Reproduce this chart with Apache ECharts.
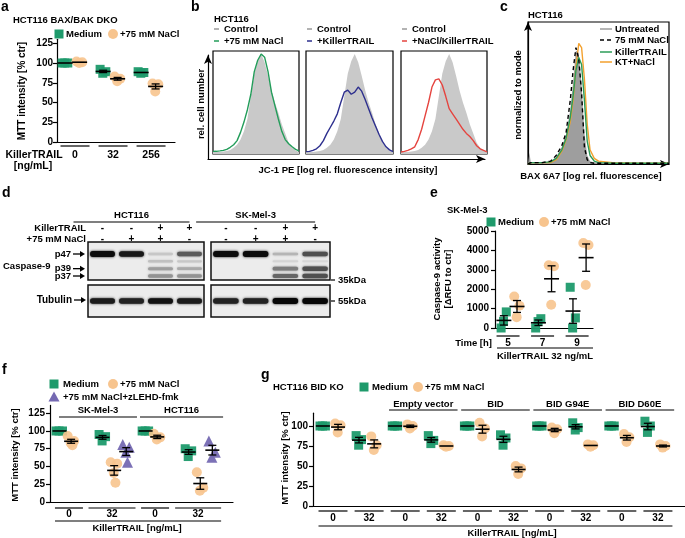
<!DOCTYPE html>
<html><head><meta charset="utf-8">
<script src="https://cdn.jsdelivr.net/npm/echarts@6/dist/echarts.min.js"></script>
<style>html,body{margin:0;padding:0;background:#fff}#c{width:685px;height:538px}</style>
</head><body><div id="c"></div>
<script>
// ================= DATA =================
// Panel a: HCT116 BAX/BAK DKO, MTT intensity [% ctr]
const aDoses = ['0', '32', '256'];
const aMedium = [[100, 100, 100], [92, 89, 87], [89, 88, 87]];
const aNaCl = [[102, 101, 100], [83, 80, 77], [74, 73, 64]];
// Panel b: JC-1 PE histograms (relative cell number, % of panel height)
const bBins = [0, .04, .08, .12, .16, .2, .24, .28, .32, .36, .4, .44, .48, .52, .56, .6, .64, .68, .72, .76, .8, .84, .88, .92, .96, 1];
const bControl = [2, 2, 2, 2.5, 3, 4, 6, 9, 14, 22, 34, 56, 78, 90, 97, 89, 76, 62, 50, 40, 29, 20, 11, 6, 3.5, 2];
const bNaCl = [2.5, 2.6, 3, 3.5, 4.5, 6.5, 9, 13, 21, 31, 43, 58, 80, 91, 97, 94, 80, 60, 47, 34, 22, 14, 10, 7, 4.5, 3];
const bKillerTRAIL = [2.3, 2.5, 3.5, 5, 8, 13, 20, 26, 32, 39, 50, 60, 62, 58, 60, 65, 61, 53, 44, 35, 27, 19, 12, 7, 4, 2.3];
const bNaClKillerTRAIL = [2, 2.5, 3.5, 5, 7, 14, 24, 37, 50, 65, 72, 73, 67, 56, 44, 39, 34, 29, 24, 20, 17, 13, 8, 5, 3.5, 2];
const bLegend = ['+75 mM NaCl', '+KillerTRAIL', '+NaCl/KillerTRAIL'];
// Panel c: BAX 6A7 histograms (normalized to mode)
const cBins = [0, .01, .02, .1, .16, .2, .24, .27, .3, .32, .34, .36, .38, .4, .42, .44, .47, .5, .6, .8, 1];
const cUntreated = [0, 8, 1, 1, 2, 5, 12, 21, 38, 58, 80, 78, 56, 22, 6, 2, 1, 1, .5, .5, .5];
const cNaCl = [0, 1, 1, 1, 2, 6, 13, 22, 45, 66, 82, 74, 50, 12, 3, 1, .5, .5, .5, .5, .5];
const cKillerTRAIL = [0, 1, 1, 1, 1.5, 4, 10, 18, 33, 48, 66, 75, 70, 45, 16, 6, 2, 1, .5, .5, .5];
const cKTNaCl = [0, 1, 1, 1, 1, 3, 9, 17, 30, 45, 68, 85, 82, 60, 28, 10, 4, 2, 1, .5, .5];
const cLegend = ['Untreated', '75 mM NaCl', 'KillerTRAIL', 'KT+NaCl'];
// Panel d: western blot (band darkness 0..1, rows = bands, columns = lanes)
const dLanes = ['1', '2', '3', '4'];
const dKillerTRAIL = ['-', '-', '+', '+'];
const dNaClRow = ['-', '+', '+', '-'];
const dBands = ['p47', 'p43', 'p39', 'p37'];
const dLabeledBands = ['p47', 'p39', 'p37'];
const dMarkers = ['35kDa', '55kDa'];
const dHCT116 = [[.95, .9, .12, .6], [0, 0, .15, .12], [0, 0, .3, .25], [0, 0, .35, .35]];
const dSKMel3 = [[.95, .95, .2, .65], [0, 0, .06, .05], [0, 0, .45, .65], [0, 0, .55, .65]];
const dTubulinHCT = [.88, .85, .92, .88];
const dTubulinSK = [.85, .85, .97, .97];
// Panel e: SK-Mel-3 caspase-9 activity [ΔRFU to ctr]
const eTimes = ['5', '7', '9'];
const eMedium = [[0, 830, 345], [0, 480, 330], [2100, 520, 0]];
const eNaCl = [[1620, 1150, 560], [3230, 3180, 1200], [4380, 4280, 2220]];
// Panel f: MTT intensity [% ctr]
const fDoses = ['0', '32', '0', '32'];
const fCells = ['SK-Mel-3', 'HCT116'];
const fMedium = [[100, 100, 100], [95, 92, 86], [100, 100, 100], [75, 72, 64]];
const fNaCl = [[93, 86, 83, 80], [56, 54, 41, 27], [96, 91, 88], [42, 20, 16]];
const fNaClZ = [null, [81, 77, 70, 56], null, [86, 70, 63]];
// Panel g: HCT116 BID KO, MTT intensity [% ctr]
const gDoses = ['0', '32', '0', '32', '0', '32', '0', '32', '0', '32'];
const gConstructs = ['Empty vector', 'BID', 'BID G94E', 'BID D60E'];
const gMedium = [[100, 100, 100], [88, 83, 76], [100, 100, 100], [88, 82, 78], [100, 100, 100], [89, 85, 76], [100, 100, 100], [104, 98, 95], [100, 100, 100], [106, 100, 92]];
const gNaCl = [[103, 101, 92], [87, 76, 70], [102, 100, 97], [76, 75, 74], [104, 97, 87], [50, 47, 40], [98, 96, 91], [77, 76, 74], [90, 86, 80], [77, 75, 73]];

// ================= STYLE =================
const FONT = '"Liberation Sans", Arial, Helvetica, sans-serif';
const GREEN = '#1e9a6b', PEACH = '#f7c48e', PURPLE = '#7569b2';
const JIT = [-0.08, 0.07, -0.01, 0.03];
const mean = a => a.reduce((s, v) => s + v, 0) / a.length;
const sem = a => { const m = mean(a); return Math.sqrt(a.reduce((s, v) => s + (v - m) * (v - m), 0) / (a.length - 1)) / Math.sqrt(a.length); };

const grids = [], xAxis = [], yAxis = [], series = [];
function grid(box, xa, ya) {
  const i = grids.length;
  grids.push(Object.assign({ containLabel: false, outerBoundsMode: 'none' }, box));
  xAxis.push(Object.assign({ gridIndex: i }, xa));
  yAxis.push(Object.assign({ gridIndex: i }, ya));
  return i;
}
const hv = (min, max) => ({ type: 'value', min, max, show: false });
const hcat = () => ({ type: 'category', data: dLanes, show: false });
const LINE = { color: '#000', width: 1.2 };
const xScat = (min, max) => ({ type: 'value', min, max, axisLine: { show: true, onZero: true, lineStyle: LINE }, axisTick: { show: false }, axisLabel: { show: false }, splitLine: { show: false } });
const yScat = (max, ticks, margin) => ({ type: 'value', min: 0, max,
  axisLine: { show: true, onZero: false, lineStyle: LINE },
  axisTick: { show: true, length: 4, lineStyle: LINE, customValues: ticks },
  axisLabel: { customValues: ticks, formatter: v => String(v), color: '#000', fontFamily: FONT, fontWeight: 'bold', fontSize: 10, margin },
  splitLine: { show: false } });
const arrowAx = (min, max) => ({ type: 'value', min, max,
  axisLine: { show: true, onZero: false, symbol: ['none', 'arrow'], symbolSize: [6, 9], lineStyle: LINE },
  axisTick: { show: false }, axisLabel: { show: false }, splitLine: { show: false } });
const box = { show: true, borderColor: '#000', borderWidth: 1.2, backgroundColor: 'transparent' };

function scatter(gi, groups, off, symbol, size, color, opacity) {
  const data = [];
  groups.forEach((reps, g) => { if (reps) reps.forEach((v, r) => data.push([g + off + JIT[r], v])); });
  series.push({ type: 'scatter', xAxisIndex: gi, yAxisIndex: gi, symbol, symbolSize: size, itemStyle: { color, opacity }, data, silent: true, z: 2 });
}
function errbars(gi, groups, off, half, cap) {
  const data = [];
  groups.forEach((reps, g) => { if (reps) data.push([g + off, mean(reps), sem(reps)]); });
  series.push({ type: 'custom', xAxisIndex: gi, yAxisIndex: gi, z: 5, silent: true, data,
    renderItem: (p, api) => {
      const x = api.value(0), m = api.value(1), s = api.value(2);
      const pm = api.coord([x, m]), pt = api.coord([x, m + s]), pb = api.coord([x, m - s]);
      const st = { stroke: '#000', lineWidth: 1.3 };
      const ch = [{ type: 'line', shape: { x1: pm[0] - half, y1: pm[1], x2: pm[0] + half, y2: pm[1] }, style: { stroke: '#000', lineWidth: 1.6 } }];
      if (pb[1] - pt[1] > 1.5) {
        ch.push({ type: 'line', shape: { x1: pt[0], y1: pt[1], x2: pb[0], y2: pb[1] }, style: st });
        ch.push({ type: 'line', shape: { x1: pt[0] - cap, y1: pt[1], x2: pt[0] + cap, y2: pt[1] }, style: st });
        ch.push({ type: 'line', shape: { x1: pb[0] - cap, y1: pb[1], x2: pb[0] + cap, y2: pb[1] }, style: st });
      }
      return { type: 'group', children: ch };
    } });
}
function hist(gi, xs, ys, color, fill, dashed) {
  series.push({ type: 'line', xAxisIndex: gi, yAxisIndex: gi, data: xs.map((x, i) => [x, ys[i]]), showSymbol: false, smooth: false, silent: true,
    lineStyle: fill ? { width: 0 } : { color, width: 1.4, type: dashed ? [4, 3] : 'solid' },
    areaStyle: fill ? { color: fill, opacity: 1 } : undefined, z: fill ? 1 : 3 });
}
function blot(gi, rows) {
  const data = [];
  rows.forEach((row, b) => row.forEach((v, l) => { if (v > 0) data.push([l, b, v]); }));
  series.push({ type: 'custom', xAxisIndex: gi, yAxisIndex: gi, silent: true, data, z: 3,
    renderItem: (p, api) => {
      const c = api.coord([api.value(0), api.value(1)]);
      const w = api.size([1, 0])[0] * 0.86, v = api.value(2);
      const h = 1.8 + 4.2 * v, g = Math.round(226 - 226 * v);
      const col = 'rgb(' + g + ',' + g + ',' + g + ')';
      return { type: 'rect', shape: { x: c[0] - w / 2, y: c[1] - h / 2, width: w, height: h, r: h / 2 }, style: { fill: col, shadowBlur: 2.5, shadowColor: col } };
    } });
}

// ----- panel a
const A = grid({ left: 57, top: 39.3, width: 118, height: 102.7 }, xScat(-0.474, 2.63), yScat(130, [0, 25, 50, 75, 100, 125], 4));
scatter(A, aMedium, -0.26, 'rect', 9, GREEN, 0.95);
scatter(A, aNaCl, 0.12, 'circle', 10, PEACH, 0.9);
errbars(A, aMedium, -0.26, 7.5, 4);
errbars(A, aNaCl, 0.12, 7.5, 4);
// ----- panel b
const bLefts = [[213, 86], [306, 87], [401, 86]];
const bSeries = [bNaCl, bKillerTRAIL, bNaClKillerTRAIL];
const bColors = ['#239d5a', '#2d2f8e', '#e5443f'];
bLefts.forEach((lw, k) => {
  const gi = grid(Object.assign({ left: lw[0], top: 51, width: lw[1], height: 103 }, box), hv(0, 1), hv(0, 100));
  hist(gi, bBins, bControl, null, '#c9c9c9');
  hist(gi, bBins, bSeries[k], bColors[k]);
});
grid({ left: 208, top: 55, width: 277, height: 104 }, arrowAx(0, 1), arrowAx(0, 1));
// ----- panel c
const C = grid(Object.assign({ left: 528, top: 22, width: 141, height: 142 }, box), arrowAx(0, 1), arrowAx(0, 100));
hist(C, cBins, cUntreated, null, '#9e9e9e');
hist(C, cBins, cKTNaCl, '#f3a12e');
hist(C, cBins, cKillerTRAIL, '#2c9c58');
hist(C, cBins, cNaCl, '#000', null, true);
// ----- panel d (boxes + band grids)
const blotBox = { show: true, borderColor: '#111', borderWidth: 1.5, backgroundColor: '#ececec' };
const DHbox = grid(Object.assign({ left: 88, top: 242, width: 116, height: 38 }, blotBox), hv(0, 1), hv(0, 1));
const DSbox = grid(Object.assign({ left: 211, top: 242, width: 119, height: 38 }, blotBox), hv(0, 1), hv(0, 1));
grid(Object.assign({ left: 88, top: 285, width: 116, height: 32 }, blotBox), hv(0, 1), hv(0, 1));
grid(Object.assign({ left: 211, top: 285, width: 119, height: 32 }, blotBox), hv(0, 1), hv(0, 1));
const bandAxis = { type: 'category', data: dBands, inverse: true, boundaryGap: false, show: false };
const tubAxis = { type: 'category', data: ['Tubulin'], show: false };
const DH = grid({ left: 88, top: 254, width: 116, height: 22 }, hcat(), bandAxis);
const DS = grid({ left: 211, top: 254, width: 119, height: 22 }, hcat(), bandAxis);
const DTH = grid({ left: 88, top: 295, width: 116, height: 12 }, hcat(), tubAxis);
const DTS = grid({ left: 211, top: 295, width: 119, height: 12 }, hcat(), tubAxis);
blot(DH, dHCT116);
blot(DS, dSKMel3);
blot(DTH, [dTubulinHCT]);
blot(DTS, [dTubulinSK]);
// ----- panel e
const E = grid({ left: 495, top: 231, width: 98, height: 97 }, xScat(-0.377, 2.46), yScat(5000, [0, 1000, 2000, 3000, 4000, 5000], 6));
scatter(E, eMedium, -0.12, 'rect', 9, GREEN, 0.95);
scatter(E, eNaCl, 0.26, 'circle', 10, PEACH, 0.9);
errbars(E, eMedium, -0.12, 7.5, 4);
errbars(E, eNaCl, 0.26, 7.5, 4);
// ----- panel f
const F = grid({ left: 50, top: 405.4, width: 183, height: 96.6 }, xScat(-0.44, 3.81), yScat(136, [0, 25, 50, 75, 100, 125], 5));
scatter(F, fMedium, -0.22, 'rect', 9, GREEN, 0.95);
scatter(F, fNaCl, 0.05, 'circle', 10, PEACH, 0.9);
scatter(F, fNaClZ, 0.33, 'triangle', 11, PURPLE, 0.95);
errbars(F, fMedium, -0.22, 7, 4);
errbars(F, fNaCl, 0.05, 7, 4);
errbars(F, fNaClZ, 0.33, 7, 4);
// ----- panel g
const G = grid({ left: 313, top: 413.2, width: 372, height: 92.8 }, xScat(-0.554, 9.75), yScat(116, [0, 25, 50, 75, 100], 5));
scatter(G, gMedium, -0.28, 'rect', 9, GREEN, 0.95);
scatter(G, gNaCl, 0.14, 'circle', 10, PEACH, 0.9);
errbars(G, gMedium, -0.28, 7, 4);
errbars(G, gNaCl, 0.14, 7, 4);

const chart = echarts.init(document.getElementById('c'), null, { renderer: 'canvas', width: 685, height: 538 });
chart.setOption({ animation: false, backgroundColor: '#fff', grid: grids, xAxis, yAxis, series });

// ================= TEXT / ANNOTATIONS =================
const px = (gi, x, y) => chart.convertToPixel({ gridIndex: gi }, [x, y]);
const GR = [];
function txt(x, y, text, o) {
  o = o || {};
  GR.push({ type: 'text', x, y, rotation: o.rot ? Math.PI / 2 : 0, silent: true, z: 10,
    style: { text, fill: o.color || '#000', font: (o.weight || 'bold') + ' ' + (o.size || 9.5) + 'px ' + FONT, align: o.align || 'left', verticalAlign: 'middle' } });
}
function line(x1, y1, x2, y2, o) {
  o = o || {};
  GR.push({ type: 'line', silent: true, z: 10, shape: { x1, y1, x2, y2 }, style: { stroke: o.color || '#000', lineWidth: o.w || 1.2, lineDash: o.dash || null } });
}
const sq = (cx, cy) => GR.push({ type: 'rect', silent: true, z: 10, shape: { x: cx - 4.5, y: cy - 4.5, width: 9, height: 9 }, style: { fill: GREEN } });
const circ = (cx, cy) => GR.push({ type: 'circle', silent: true, z: 10, shape: { cx, cy, r: 5 }, style: { fill: PEACH } });
const tri = (cx, cy) => GR.push({ type: 'polygon', silent: true, z: 10, shape: { points: [[cx, cy - 5.5], [cx + 5.5, cy + 4.5], [cx - 5.5, cy + 4.5]] }, style: { fill: PURPLE } });
function arrow(x1, x2, y) {
  line(x1, y, x2 - 3, y, { w: 1.3 });
  GR.push({ type: 'polygon', silent: true, z: 10, shape: { points: [[x2, y], [x2 - 5, y - 3], [x2 - 5, y + 3]] }, style: { fill: '#000' } });
}
function groupAxis(gi, labels, lineY, labY, halfW, size) {
  labels.forEach((lab, g) => {
    const cx = px(gi, g, 0)[0];
    const hw = Array.isArray(halfW) ? halfW[g] : halfW;
    line(cx - hw, lineY, cx + hw, lineY);
    txt(cx, labY, lab, { align: 'center', size: size || 10 });
  });
}
function spanHeader(gi, x0, x1, lineY, textY, label) {
  const a = px(gi, x0, 0)[0], b = px(gi, x1, 0)[0];
  line(a, lineY, b, lineY);
  txt((a + b) / 2, textY, label, { align: 'center' });
}

// panel a
txt(1, 7, 'a', { size: 14 });
txt(13, 20, 'HCT116 BAX/BAK DKO', { size: 9.5 });
sq(59, 34); txt(66, 34, 'Medium'); circ(113, 34); txt(120, 34, '+75 mM NaCl');
txt(22, 91, 'MTT intensity [% ctr]', { rot: 1, align: 'center', size: 10 });
groupAxis(A, aDoses, 146, 155, 14.5, 10.5);
txt(34, 155, 'KillerTRAIL', { align: 'center', size: 10.5 });
txt(33, 166, '[ng/mL]', { align: 'center', size: 10.5 });

// panel b
txt(191, 7, 'b', { size: 14 });
txt(214, 19, 'HCT116');
[214, 307, 402].forEach((lx, k) => {
  line(lx, 29, lx + 5, 29, { color: '#9a9a9a', w: 1.5 });
  txt(lx + 10, 29, 'Control');
  line(lx, 41, lx + 5, 41, { color: bColors[k], w: 1.5 });
  txt(lx + 10, 41, bLegend[k]);
});
txt(201, 104, 'rel. cell number', { rot: 1, align: 'center' });
txt(348, 170, 'JC-1 PE [log rel. fluorescence intensity]', { align: 'center' });

// panel c
txt(500, 7, 'c', { size: 14 });
txt(528, 15, 'HCT116');
const cLeg = [['#9e9e9e', null], ['#000', [4, 3]], ['#2c9c58', null], ['#f3a12e', null]];
[29, 40, 52, 62].forEach((y, k) => {
  line(600, y, 612, y, { color: cLeg[k][0], w: 1.5, dash: cLeg[k][1] });
  txt(615, y, cLegend[k]);
});
txt(518, 95, 'normalized to mode', { rot: 1, align: 'center' });
txt(591, 176, 'BAX 6A7 [log rel. fluorescence]', { align: 'center' });

// panel d
txt(2, 193, 'd', { size: 14 });
spanHeader(DH, -0.6, 3.45, 222, 215.5, 'HCT116');
spanHeader(DS, -0.55, 3.35, 222, 215.5, 'SK-Mel-3');
txt(86, 228, 'KillerTRAIL', { align: 'right' });
txt(86, 239, '+75 mM NaCl', { align: 'right' });
[DH, DS].forEach(gi => dLanes.forEach((l, i) => {
  const cx = px(gi, i, 0)[0];
  txt(cx, 228, dKillerTRAIL[i], { align: 'center', size: 10 });
  txt(cx, 239, dNaClRow[i], { align: 'center', size: 10 });
}));
txt(3, 266, 'Caspase-9', { size: 9.5 });
dLabeledBands.forEach(b => {
  const y = px(DH, 0, b)[1];
  txt(71, y, b, { align: 'right', size: 9.5 });
  arrow(73, 85, y);
});
const yTub = px(DTH, 0, 'Tubulin')[1];
txt(72, yTub - 1, 'Tubulin', { align: 'right', size: 10 });
arrow(74, 86, yTub - 1);
const y35 = px(DSbox, 0, 0)[1];
line(331, y35, 335, y35); txt(338, y35, dMarkers[0]);
const y55 = px(DTS, 0, 'Tubulin')[1];
line(331, y55, 335, y55); txt(338, y55, dMarkers[1]);

// panel e
txt(430, 193, 'e', { size: 14 });
txt(447, 210, 'SK-Mel-3');
sq(491, 222); txt(498, 222, 'Medium'); circ(544, 222); txt(551, 222, '+75 mM NaCl');
txt(437, 279, 'Caspase-9 activity', { rot: 1, align: 'center' });
txt(448, 279, '[\u0394RFU to ctr]', { rot: 1, align: 'center' });
groupAxis(E, eTimes, 336, 343, 11.5);
txt(492, 343, 'Time [h]', { align: 'right' });
line(px(E, -0.32, 0)[0], 348, px(E, 2.46, 0)[0], 348);
txt(545, 356, 'KillerTRAIL 32 ng/mL', { align: 'center' });

// panel f
txt(2, 370, 'f', { size: 14 });
sq(54, 384); txt(63, 384, 'Medium'); circ(113, 384); txt(120, 384, '+75 mM NaCl');
tri(54, 397); txt(63, 397, '+75 mM NaCl+zLEHD-fmk');
spanHeader(F, -0.23, 1.58, 417, 410, fCells[0]);
spanHeader(F, 1.65, 3.58, 417, 410, fCells[1]);
txt(15, 455, 'MTT intensity [% ctr]', { rot: 1, align: 'center' });
groupAxis(F, fDoses, 508, 514.5, [14, 23.5, 14, 23]);
line(px(F, 0, 0)[0] - 14, 521, px(F, 3, 0)[0] + 23, 521);
txt(137, 528.5, 'KillerTRAIL [ng/mL]', { align: 'center' });

// panel g
txt(261, 375, 'g', { size: 14 });
txt(273, 387, 'HCT116 BID KO');
sq(364, 387); txt(372, 387, 'Medium'); circ(418, 387); txt(425, 387, '+75 mM NaCl');
gConstructs.forEach((name, k) => spanHeader(G, 2 * (k + 1) - 0.45, 2 * (k + 1) + 1.45, 410, 404, name));
txt(285, 458, 'MTT intensity [% ctr]', { rot: 1, align: 'center' });
groupAxis(G, gDoses, 511, 518, 14.5);
line(px(G, 0, 0)[0] - 14.5, 526, px(G, 9, 0)[0] + 14.5, 526);
txt(512, 533, 'KillerTRAIL [ng/mL]', { align: 'center' });

chart.setOption({ graphic: GR });
</script>
</body></html>
